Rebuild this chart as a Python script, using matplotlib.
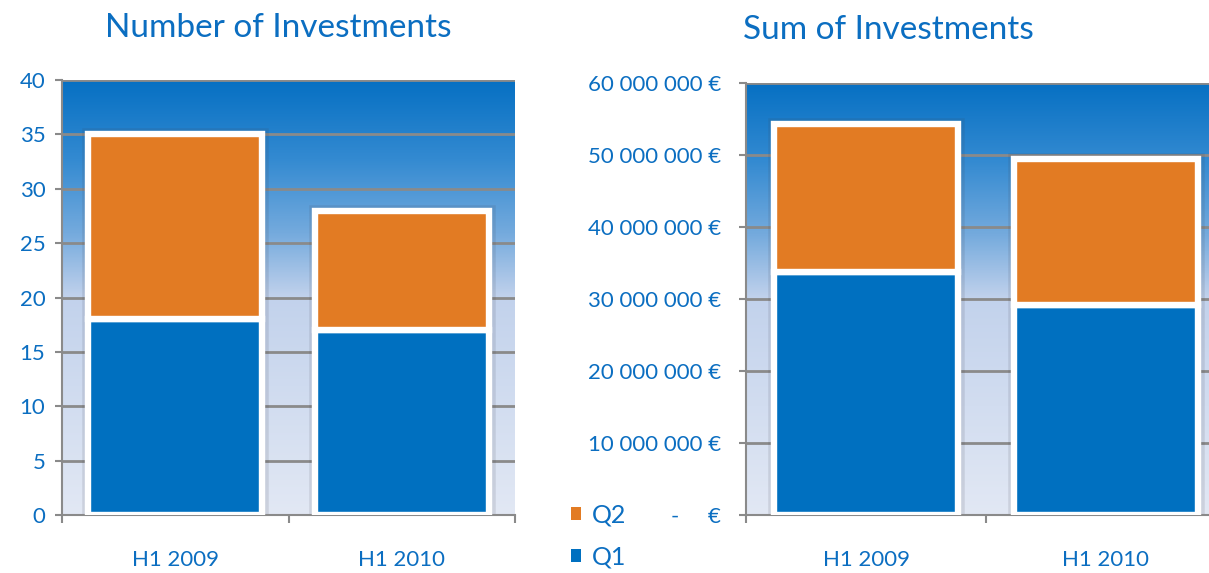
import matplotlib
matplotlib.use("Agg")
import matplotlib.pyplot as plt
import numpy as np
from matplotlib.colors import LinearSegmentedColormap
from matplotlib.patches import Patch

plt.rcParams['font.family'] = ['Lato', 'DejaVu Sans']

categories = ["H1 2009", "H1 2010"]
count_q1 = [18, 17]
count_q2 = [17, 11]
sum_q1 = [33.8e6, 29.1e6]
sum_q2 = [20.5e6, 20.3e6]
count_ticks = [0, 5, 10, 15, 20, 25, 30, 35, 40]
sum_ticks = [0, 10e6, 20e6, 30e6, 40e6, 50e6, 60e6]
titles = ["Number of Investments", "Sum of Investments"]
legend_labels = ["Q2", "Q1"]

BLUE = "#0070C0"
ORANGE = "#E27B23"
TEXT = "#0B6EC1"
GRID = "#8A8A8A"

bg_cmap = LinearSegmentedColormap.from_list(
    "bg", [(0.0, "#0670C3"), (0.18, "#338AD1"), (0.35, "#74AADD"),
           (0.5, "#C2D2EC"), (1.0, "#E2E8F4")])

W, H = 1209, 573
fig = plt.figure(figsize=(W / 100, H / 100), dpi=100)


def px_axes(x0, y0, x1, y1):
    return fig.add_axes([x0 / W, 1 - y1 / H, (x1 - x0) / W, (y1 - y0) / H])


def style(ax, ymax, ticks, labels, pad):
    grad = np.linspace(0, 1, 256).reshape(-1, 1)
    ax.imshow(grad, cmap=bg_cmap, aspect="auto", extent=[0, 1, 0, 1],
              transform=ax.transAxes, zorder=0)
    ax.set_xlim(-0.5, 1.5)
    ax.set_ylim(0, ymax)
    ax.set_yticks(ticks)
    ax.set_yticklabels(labels)
    ax.yaxis.grid(True, color=GRID, linewidth=2, zorder=1)
    ax.set_axisbelow(True)
    for s in ["top", "right"]:
        ax.spines[s].set_visible(False)
    for s in ["left", "bottom"]:
        ax.spines[s].set_color(GRID)
        ax.spines[s].set_linewidth(1.5)
    ax.tick_params(axis="y", colors=GRID, labelcolor=TEXT, labelsize=16,
                   length=5, width=1.5, pad=pad)
    ax.set_xticks([0, 1])
    ax.set_xticklabels(categories)
    ax.set_xticks([-0.5, 0.5, 1.5], minor=True)
    ax.tick_params(axis="x", which="major", length=0, labelcolor=TEXT,
                   labelsize=16, pad=25)
    ax.tick_params(axis="x", which="minor", length=6, width=1.5,
                   colors=GRID, direction="out")


def bars(ax, q1, q2):
    x = np.arange(len(categories))
    total = np.array(q1) + np.array(q2)
    ax.bar(x, total, width=0.77, color="none",
           edgecolor=(0.25, 0.25, 0.3, 0.13), linewidth=9, zorder=2)
    ax.bar(x, q1, width=0.77, color=BLUE, edgecolor="white",
           linewidth=4.6, zorder=3)
    ax.bar(x, q2, bottom=q1, width=0.77, color=ORANGE,
           edgecolor="white", linewidth=4.6, zorder=3)


ax1 = px_axes(62, 80, 515, 515)
style(ax1, 40, count_ticks, [str(t) for t in count_ticks], 7)
bars(ax1, count_q1, count_q2)

ax2 = px_axes(746, 83, 1226, 515)
sum_labels = []
for t in sum_ticks:
    if t == 0:
        sum_labels.append("-     €")
    else:
        sum_labels.append(f"{t:,.0f}".replace(",", " ") + " €")
style(ax2, 60e6, sum_ticks, sum_labels, 13)
bars(ax2, sum_q1, sum_q2)

fig.text(278 / W, 1 - 28 / H, titles[0], color=TEXT, fontsize=24,
         ha="center", va="center")
fig.text(888 / W, 1 - 30 / H, titles[1], color=TEXT, fontsize=24,
         ha="center", va="center")

handles = [Patch(facecolor=ORANGE, edgecolor="none"),
           Patch(facecolor=BLUE, edgecolor="none")]
fig.legend(handles, legend_labels, loc="upper left",
           bbox_to_anchor=(548 / W, 1 - 481 / H), frameon=False,
           fontsize=18, labelcolor=TEXT, handlelength=0.4,
           handleheight=0.4, handletextpad=0.45, labelspacing=0.75)

fig.savefig("out.png", dpi=100)
